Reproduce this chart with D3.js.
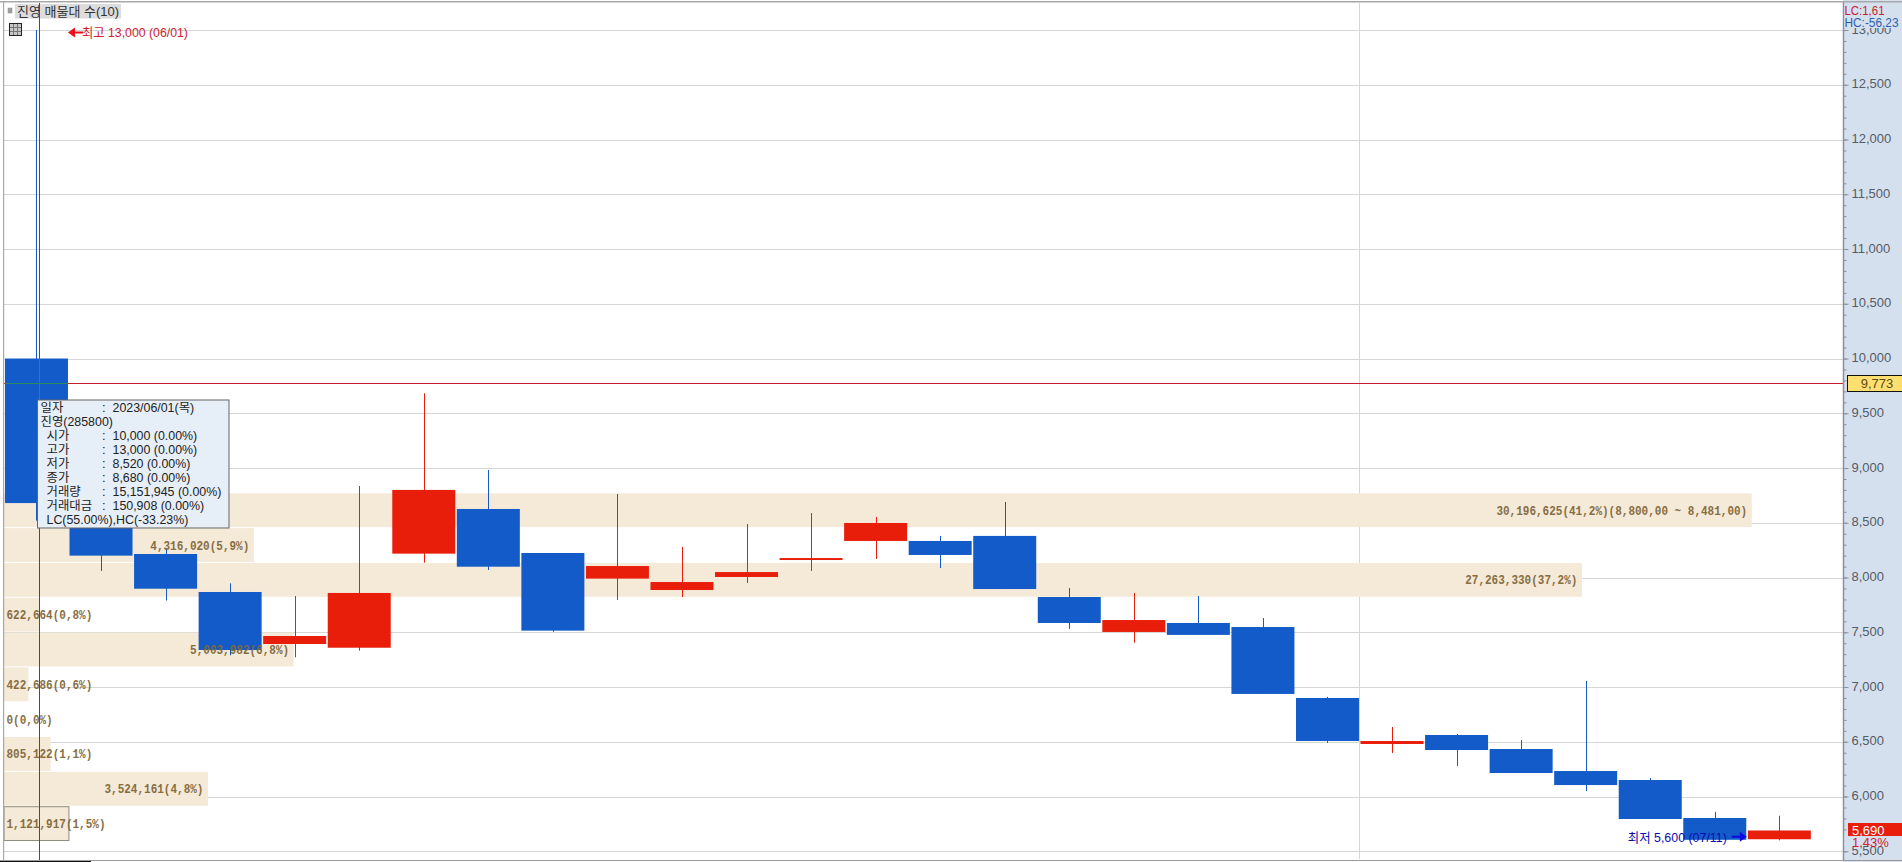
<!DOCTYPE html>
<html><head><meta charset="utf-8">
<script src="https://cdn.jsdelivr.net/npm/d3@7"></script>
<style>
html,body{margin:0;padding:0;background:#fff;overflow:hidden}
svg{display:block}
text{font-family:"Liberation Sans","Noto Sans CJK KR",sans-serif;font-size:13px}
.axis text{fill:#555c66;font-size:13px}
.axis path{display:none}
.axis line{stroke:#8a909a}
</style></head><body>
<svg id="c" width="1902" height="862"></svg>
<script>
const dates=["06/01","06/02","06/05","06/07","06/08","06/09","06/12","06/13","06/14","06/15","06/16","06/19","06/20","06/21","06/22","06/23","06/26","06/27","06/28","06/29","06/30","07/03","07/04","07/05","07/06","07/07","07/10","07/11"];
const opens =[10000,8650,8215,7868,7393,7359,8218,8626,8224,7990,7886,8005,8160,8334,8334,8380,7822,7503,7585,7548,6900,6480,6562,6434,6233,6151,5804,5610];
const closes=[8680,8200,7898,7338,7466,7859,8800,8099,7515,8105,7959,8050,8178,8498,8206,7895,7585,7612,7476,6937,6507,6507,6425,6215,6105,5795,5605,5690];
const highs =[13000,8700,8270,7947,7831,8836,9683,8982,8224,8763,8279,8489,8589,8553,8380,8690,7905,7859,7831,7630,6910,6635,6572,6517,7056,6170,5860,5825];
const lows  =[8520,8060,7790,7290,7272,7332,8136,8069,7505,7795,7822,7950,8060,8170,8087,7895,7530,7405,7476,6937,6490,6398,6279,6215,6050,5795,5605,5600];
const volumes=[30196625,4316020,27263330,622664,5003982,422686,0,805122,3524161,1121917];
const volLabels=["30,196,625(41,2%)(8,800,00 ~ 8,481,00)","4,316,020(5,9%)","27,263,330(37,2%)","622,664(0,8%)","5,003,982(6,8%)","422,686(0,6%)","0(0,0%)","805,122(1,1%)","3,524,161(4,8%)","1,121,917(1,5%)"];
const majorTicks=d3.range(5500,13001,500);
const minorTicks=d3.range(5500,13001,100);
const tipLabels=["일자","진영(285800)","시가","고가","저가","종가","거래량","거래대금","LC(55.00%),HC(-33.23%)"];
const tipValues=["2023/06/01(목)","","10,000 (0.00%)","13,000 (0.00%)","8,520 (0.00%)","8,680 (0.00%)","15,151,945 (0.00%)","150,908 (0.00%)",""];
const crossPrice=9773, lastClose=5690;

const RED="#e81e0a",BLUE="#135bc8",BAND="#f5e9d8",VT="#80683a";
const svg=d3.select("#c");
const x=d3.scaleBand().domain(dates).range([4.2,1811.6]).paddingInner(0.024).paddingOuter(0.012);
const y=d3.scaleLinear().domain([5500,13000]).range([851.3,30]);
const xVol=d3.scaleLinear().domain([0,30196625]).range([4,1751.7]);
const yRow=d3.scaleBand().domain(d3.range(volumes.length)).range([492.8,841]).paddingInner(0.03).paddingOuter(0.015);
const cx=d=>x(d)+x.bandwidth()/2;
const AX=1843;
const fit=(sel,w)=>sel.attr("textLength",w).attr("lengthAdjust","spacingAndGlyphs");

// frame
svg.append("rect").attr("width",1902).attr("height",862).attr("fill","#fff");
// grid
svg.append("g").selectAll("line").data(majorTicks).join("line")
 .attr("x1",4).attr("x2",AX).attr("y1",d=>Math.round(y(d))+.5).attr("y2",d=>Math.round(y(d))+.5).attr("stroke","#d6d6d6");
svg.append("line").attr("x1",1359.5).attr("x2",1359.5).attr("y1",3).attr("y2",859).attr("stroke","#d6d6d6");
// volume bands
svg.append("g").selectAll("rect").data(volumes).join("rect")
 .attr("x",4).attr("y",(d,i)=>yRow(i)).attr("height",yRow.bandwidth())
 .attr("width",d=>xVol(d)-4).attr("fill",BAND)
 .attr("stroke",(d,i)=>i===volumes.length-1?"#8c8c7c":"none");
// candles
const idx=d3.range(dates.length);
const col=i=>closes[i]>=opens[i]?RED:BLUE;
svg.append("g").selectAll("line").data(idx).join("line")
 .attr("x1",i=>Math.round(cx(dates[i]))+.5).attr("x2",i=>Math.round(cx(dates[i]))+.5)
 .attr("y1",i=>y(highs[i])).attr("y2",i=>y(lows[i])).attr("stroke",col);
svg.append("g").selectAll("rect").data(idx).join("rect")
 .attr("x",i=>x(dates[i])).attr("width",x.bandwidth())
 .attr("y",i=>y(Math.max(opens[i],closes[i])))
 .attr("height",i=>Math.max(1.5,Math.abs(y(opens[i])-y(closes[i])))).attr("fill",col);
// volume labels
svg.append("g").selectAll("text").data(volumes).join("text")
 .attr("x",d=>d>2000000?xVol(d)-4.5:6.5)
 .attr("text-anchor",d=>d>2000000?"end":"start")
 .attr("y",(d,i)=>yRow(i)+yRow.bandwidth()/2+4.5)
 .attr("fill",VT).attr("font-weight","bold").style("opacity",.95)
 .style("font-family",'"Liberation Mono",monospace')
 .text((d,i)=>volLabels[i])
 .attr("textLength",(d,i)=>volLabels[i].length*6.6).attr("lengthAdjust","spacingAndGlyphs");
// crosshair
const cxX=39.5,cyY=Math.round(y(crossPrice))+.5;
svg.append("line").attr("x1",4).attr("x2",AX).attr("y1",cyY).attr("y2",cyY).attr("stroke","#c4202c");
svg.append("line").attr("x1",cxX).attr("x2",cxX).attr("y1",3).attr("y2",860).attr("stroke","#c8142c");
svg.append("line").attr("x1",x(dates[0])).attr("x2",x(dates[0])+x.bandwidth()).attr("y1",cyY).attr("y2",cyY).attr("stroke","#2c8a5a");
svg.append("line").attr("x1",cxX).attr("x2",cxX).attr("y1",y(opens[0])).attr("y2",y(closes[0])).attr("stroke","#2c8a5a");
// tooltip
const tip=svg.append("g");
tip.append("rect").attr("x",37.5).attr("y",400).attr("width",191.5).attr("height",128).attr("fill","#e6eef8").attr("stroke","#666");
tipLabels.forEach((t,i)=>{
 const yy=411.5+i*14;
 tip.append("text").attr("x",i<2?40.5:46.5).attr("y",yy).attr("fill","#222").style("font-size","12.4px").text(t);
 if(tipValues[i]){
  tip.append("text").attr("x",102).attr("y",yy).attr("fill","#222").text(":");
  tip.append("text").attr("x",112.5).attr("y",yy).attr("fill","#222").style("font-size","12.4px").text(tipValues[i]);
 }
});
// high / low markers
const hiX=x(dates[0])+x.bandwidth();
svg.append("path").attr("d",`M${hiX} ${y(13000)+2.5}l7 -5v4h8v2h-8v4z`).attr("fill","#e8101c");
fit(svg.append("text").attr("x",hiX+14).attr("y",y(13000)+7).attr("fill","#d02030").text("최고 13,000 (06/01)"),106);
const loX=x(dates[27]);
svg.append("path").attr("d",`M${loX-1} ${y(5600)-3.5}l-7 -5v4h-8v2h8v4z`).attr("fill","#0a0ae0");
fit(svg.append("text").attr("x",loX-120).attr("y",y(5600)+1.5).attr("fill","#0a0ab0").text("최저 5,600 (07/11)"),99);
// axis panel
svg.append("rect").attr("x",AX).attr("y",0).attr("width",1902-AX).attr("height",862).attr("fill","#d5e0ef");
svg.append("g").attr("class","axis").attr("transform",`translate(${AX+.5},0)`)
 .call(d3.axisRight(y).tickValues(minorTicks).tickSize(3).tickFormat(""));
svg.append("g").attr("class","axis").attr("transform",`translate(${AX+.5},0)`)
 .call(d3.axisRight(y).tickValues(majorTicks).tickSize(5).tickPadding(3).tickFormat(d3.format(",")))
 .selectAll("text").attr("dy","0.24em");
svg.append("line").attr("x1",AX+.5).attr("x2",AX+.5).attr("y1",2).attr("y2",860).attr("stroke","#8a909a").attr("stroke-width",1.5);
// corner covers & labels
svg.append("rect").attr("x",AX+1.5).attr("y",2).attr("width",1902-AX).attr("height",26).attr("fill","#d5e0ef");
fit(svg.append("text").attr("x",1844.5).attr("y",14.5).attr("fill","#c8202c").text("LC:1,61"),40);
fit(svg.append("text").attr("x",1844.5).attr("y",26.5).attr("fill","#2a5fb0").text("HC:-56,23"),54);
svg.append("rect").attr("x",1847.5).attr("y",375.5).attr("width",56).attr("height",16).attr("fill","#ffdf70").attr("stroke","#111");
svg.append("text").attr("x",1877).attr("y",388).attr("text-anchor","middle").attr("fill","#5c4c18").text(d3.format(",")(crossPrice));
svg.append("rect").attr("x",AX+1.5).attr("y",836).attr("width",1902-AX).attr("height",10).attr("fill","#d5e0ef");
svg.append("rect").attr("x",1848).attr("y",823).attr("width",54).attr("height",13).attr("fill",RED);
svg.append("text").attr("x",1852).attr("y",834.5).attr("fill","#fff").text(d3.format(",")(lastClose));
svg.append("text").attr("x",1852).attr("y",846.5).attr("fill","#d02030").text("1,43%");
// header
svg.append("rect").attr("x",0).attr("y",1).attr("width",1902).attr("height",1.5).attr("fill","#a8a8a8");
svg.append("rect").attr("x",3).attr("y",2).attr("width",1.2).attr("height",858).attr("fill","#a8a8a8");
svg.append("rect").attr("x",0).attr("y",860).attr("width",1902).attr("height",1).attr("fill","#9a9a9a");
svg.append("rect").attr("x",0).attr("y",861).attr("width",91).attr("height",1).attr("fill","#111");
svg.append("rect").attr("x",8).attr("y",8).attr("width",4).attr("height",5).attr("fill","#a0a0a0").attr("stroke","#888").attr("stroke-width",.5);
svg.append("rect").attr("x",15).attr("y",4).attr("width",106).attr("height",14.5).attr("fill","#dcdcdc");
svg.append("text").attr("x",17).attr("y",16).attr("fill","#333").text("진영 매물대 수(10)");
svg.append("line").attr("x1",cxX).attr("x2",cxX).attr("y1",3).attr("y2",22).attr("stroke","#c8142c");
const ic=svg.append("g");
ic.append("rect").attr("x",9.5).attr("y",23.5).attr("width",12).attr("height",12).attr("fill","#c8c8c8").attr("stroke","#222");
[13.5,17.5].forEach(v=>ic.append("line").attr("x1",v).attr("x2",v).attr("y1",24).attr("y2",35).attr("stroke","#777"));
[27.5,31.5].forEach(v=>ic.append("line").attr("x1",10).attr("x2",21).attr("y1",v).attr("y2",v).attr("stroke","#777"));
</script></body></html>
